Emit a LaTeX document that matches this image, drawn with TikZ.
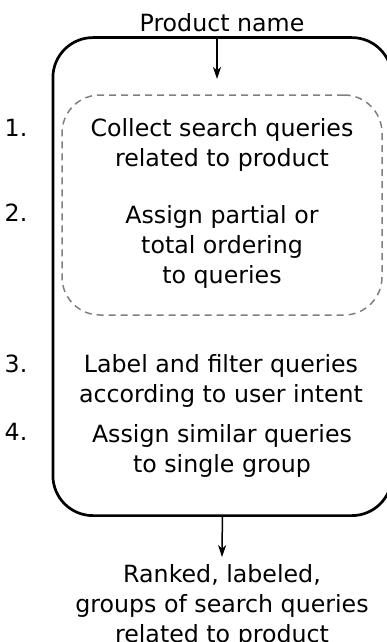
\documentclass[tikz,border=0pt]{standalone}
\usepackage{fontspec}
\setmainfont{DejaVu Sans}
\usetikzlibrary{arrows.meta}
\tikzstyle{stepText}=[align=center,inner sep=0pt,font=\fontsize{23.7}{30}\selectfont]
\tikzstyle{stepNum}=[anchor=base,inner sep=0pt,font=\fontsize{23.7}{30}\selectfont]
\tikzstyle{pipelineBox}=[draw,line width=2.7pt,rounded corners=40pt,minimum width=339pt,minimum height=478pt,inner sep=0pt]
\tikzstyle{groupBox}=[draw=gray,line width=1.5pt,dash pattern=on 7pt off 5pt,rounded corners=38pt,minimum width=320pt,minimum height=220pt,inner sep=0pt]
\tikzstyle{flow}=[-{Stealth[length=12pt,width=8pt,inset=3.5pt]}, line width=1.5pt]

\begin{document}
\begin{tikzpicture}[x=1pt,y=-1pt]

    \useasboundingbox (0,0) rectangle (386,642);

    \node[pipelineBox] (pipeline) at (222.4, 276.6) {};
    \node[groupBox] (gather) at (222, 205) {};

    \node[stepText] (name) at (222, 22.75) {Product name};
    \node[stepText] (collect) at (222, 144.75) {Collect search queries\\related to product};
    \node[stepText] (order) at (222, 246.75) {Assign partial or\\total ordering\\to queries};
    \node[stepText] (filter) at (221, 380.75) {Label and filter queries\\according to user intent};
    \node[stepText] (group) at (222, 451.25) {Assign similar queries\\to single group};
    \node[stepText,inner ysep=7pt] (result) at (222, 605.75) {Ranked, labeled,\\groups of search queries\\related to product};

    \node[stepNum] (n1) at (16, 136) {1.};
    \node[stepNum] (n2) at (16, 221) {2.};
    \node[stepNum] (n3) at (16, 372) {3.};
    \node[stepNum] (n4) at (16, 440) {4.};

    \coordinate (inTip) at (217, 79);

    \draw[flow] (pipeline.north -| inTip) to (inTip);
    \draw[flow] (pipeline.south) to (result.north);

\end{tikzpicture}
\end{document}
